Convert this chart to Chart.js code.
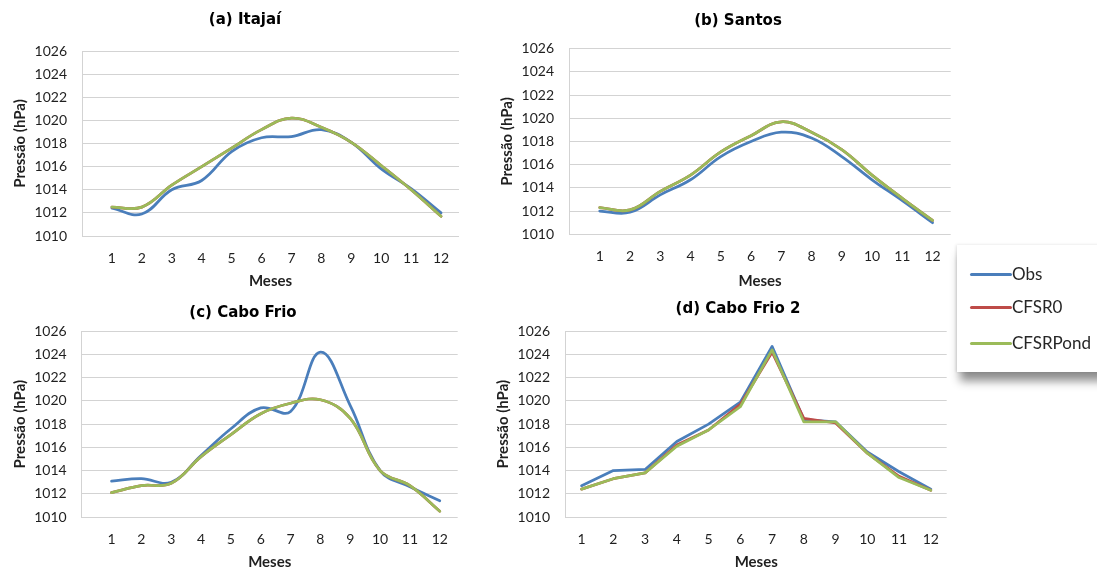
<!DOCTYPE html>
<html>
<head>
<meta charset="utf-8">
<script src="https://cdn.jsdelivr.net/npm/chart.js@4/dist/chart.umd.min.js"></script>
<style>
  html, body { margin: 0; padding: 0; background: #fff; }
  body { position: relative; width: 1097px; height: 571px; overflow: hidden; }
  canvas { position: absolute; }
  #legend {
    position: absolute; left: 957px; top: 245px; width: 170px; height: 127px;
    background: #fff;
    box-shadow: 3px 9px 9px rgba(0,0,0,0.45), -1px 0 3px rgba(0,0,0,0.12);
  }
  .item { position: absolute; left: 13px; height: 20px; display: flex; align-items: center; }
  .swatch { width: 42px; height: 3px; border-radius: 2px; }
  .label { font-family: Lato, sans-serif; font-size: 17px; color: #262626; line-height: 20px; }
</style>
</head>
<body>
<canvas id="chartA" width="486" height="290" style="left:0;top:0"></canvas>
<canvas id="chartB" width="494" height="290" style="left:491px;top:0"></canvas>
<canvas id="chartC" width="486" height="281" style="left:0;top:290px"></canvas>
<canvas id="chartD" width="494" height="281" style="left:491px;top:290px"></canvas>
<div id="legend"></div>
<script>
// Months on the horizontal axis
const months = [1, 2, 3, 4, 5, 6, 7, 8, 9, 10, 11, 12];

// Pressure ticks (hPa)
const pressureMin = 1010;
const pressureMax = 1026;
const pressureStep = 2;

// Series names and colours
const seriesNames = ['Obs', 'CFSR0', 'CFSRPond'];
const seriesColors = ['#4a7ebb', '#be4b48', '#9bbb59'];

// (a) Itajaí
const itajaiObs   = [1012.4, 1011.9, 1014.0, 1014.8, 1017.3, 1018.5, 1018.6, 1019.2, 1018.1, 1015.8, 1014.1, 1012.0];
const itajaiCfsr0 = [1012.5, 1012.5, 1014.4, 1016.0, 1017.6, 1019.2, 1020.2, 1019.4, 1018.1, 1016.1, 1014.0, 1011.7];
const itajaiPond  = [1012.5, 1012.5, 1014.4, 1016.0, 1017.6, 1019.2, 1020.2, 1019.4, 1018.1, 1016.1, 1014.0, 1011.7];

// (b) Santos
const santosObs   = [1012.0, 1011.9, 1013.4, 1014.7, 1016.7, 1018.0, 1018.8, 1018.3, 1016.7, 1014.7, 1012.9, 1011.0];
const santosCfsr0 = [1012.3, 1012.1, 1013.7, 1015.1, 1017.1, 1018.5, 1019.7, 1018.8, 1017.3, 1015.1, 1013.1, 1011.2];
const santosPond  = [1012.3, 1012.1, 1013.7, 1015.1, 1017.1, 1018.5, 1019.7, 1018.8, 1017.3, 1015.1, 1013.1, 1011.2];

// (c) Cabo Frio
const caboObs   = [1013.1, 1013.3, 1013.0, 1015.3, 1017.6, 1019.4, 1019.1, 1024.2, 1019.6, 1014.0, 1012.6, 1011.4];
const caboCfsr0 = [1012.1, 1012.7, 1012.9, 1015.2, 1017.1, 1018.9, 1019.8, 1020.1, 1018.5, 1014.0, 1012.7, 1010.5];
const caboPond  = [1012.1, 1012.7, 1012.9, 1015.2, 1017.1, 1018.9, 1019.8, 1020.1, 1018.5, 1014.0, 1012.7, 1010.5];

// (d) Cabo Frio 2
const cabo2Obs   = [1012.7, 1014.0, 1014.1, 1016.5, 1018.0, 1019.9, 1024.7, 1018.4, 1018.2, 1015.6, 1013.9, 1012.4];
const cabo2Cfsr0 = [1012.4, 1013.3, 1013.8, 1016.2, 1017.5, 1019.7, 1024.2, 1018.5, 1018.1, 1015.5, 1013.5, 1012.3];
const cabo2Pond  = [1012.4, 1013.3, 1013.8, 1016.1, 1017.5, 1019.5, 1024.4, 1018.2, 1018.2, 1015.5, 1013.4, 1012.3];

const tickColor = '#1f1f1f';
const gridColor = '#d3d3d3';

function buildDatasets(seriesList, useXY) {
  return seriesList.map((values, i) => ({
    label: seriesNames[i],
    data: useXY ? months.map((m, k) => ({ x: m, y: values[k] })) : values,
    borderColor: seriesColors[i],
    backgroundColor: seriesColors[i],
    borderWidth: 2.75,
    pointRadius: 0,
    fill: false,
    borderJoinStyle: 'round',
    borderCapStyle: 'round',
    order: seriesList.length - 1 - i
  }));
}

function makeChart(canvasId, title, seriesList, lay) {
  const smooth = lay.smooth;
  const xScale = smooth
    ? {
        type: 'linear', min: 0, max: 12.6,
        afterBuildTicks: s => { s.ticks = months.map(v => ({ value: v })); }
      }
    : { type: 'category', offset: true };

  Object.assign(xScale, {
    afterFit: s => { s.height = lay.xHeight; },
    ticks: {
      padding: lay.xTickPad, color: tickColor, maxRotation: 0, autoSkip: false,
      font: { family: 'Lato', size: 14 }
    },
    grid: { display: false, drawTicks: false },
    border: { display: false },
    title: {
      display: true, text: 'Meses', color: tickColor,
      font: { family: 'Lato', size: 15, weight: 'bold' },
      padding: { top: 0, bottom: 0 }
    }
  });
  if (smooth) xScale.ticks.callback = v => String(v);

  return new Chart(document.getElementById(canvasId), {
    type: 'line',
    data: {
      labels: smooth ? undefined : months.map(String),
      datasets: buildDatasets(seriesList, smooth)
    },
    options: {
      responsive: false,
      animation: false,
      devicePixelRatio: 1,
      elements: { line: { tension: smooth ? 0.4 : 0 } },
      layout: { padding: { left: lay.leftPad, right: lay.rightPad, top: 0, bottom: 0 } },
      plugins: {
        legend: { display: false },
        tooltip: { enabled: false },
        title: {
          display: true, text: title, color: '#000',
          font: { family: 'DejaVu Sans', size: 15, weight: 'bold', lineHeight: 1.2 },
          padding: { top: lay.titleTop, bottom: lay.titleBottom }
        }
      },
      scales: {
        x: xScale,
        y: {
          min: pressureMin, max: pressureMax,
          afterFit: s => {
            s.width = lay.yWidth;
            // tick labels may reach past the narrow axis box: draw them unclipped
            s._computeLabelArea = () => undefined;
          },
          ticks: {
            stepSize: pressureStep, padding: lay.yTickPad, color: tickColor,
            font: { family: 'Lato', size: 14 },
            callback: v => String(v)
          },
          grid: { color: gridColor, drawTicks: false, lineWidth: 1 },
          border: { display: true, color: gridColor, width: 1 },
          title: {
            display: true, text: 'Pressão (hPa)', color: tickColor,
            font: { family: 'Lato', size: 15, weight: 'bold' },
            padding: { top: lay.yTitlePad, bottom: 0 }
          }
        }
      }
    }
  });
}

makeChart('chartA', '(a) Itajaí', [itajaiObs, itajaiCfsr0, itajaiPond],
  { smooth: true, leftPad: 31, rightPad: 27, titleTop: 11.5, titleBottom: 21.5, yWidth: 51, yTickPad: 15, yTitlePad: -20.3, xHeight: 54, xTickPad: 13.6 });
makeChart('chartB', '(b) Santos', [santosObs, santosCfsr0, santosPond],
  { smooth: true, leftPad: 34.3, rightPad: 34.3, titleTop: 12, titleBottom: 18.7, yWidth: 44.2, yTickPad: 15.5, yTitlePad: -27.3, xHeight: 55.7, xTickPad: 13.3 });
makeChart('chartC', '(c) Cabo Frio', [caboObs, caboCfsr0, caboPond],
  { smooth: true, leftPad: 28.3, rightPad: 28.3, titleTop: 14.3, titleBottom: 9, yWidth: 53.4, yTickPad: 15, yTitlePad: -17.6, xHeight: 54, xTickPad: 13.6 });
makeChart('chartD', '(d) Cabo Frio 2', [cabo2Obs, cabo2Cfsr0, cabo2Pond],
  { smooth: false, leftPad: 38.3, rightPad: 38.3, titleTop: 10.3, titleBottom: 13, yWidth: 36.4, yTickPad: 15.7, yTitlePad: -35.3, xHeight: 54, xTickPad: 13.6 });

// Shared legend for the four panels
const legendBox = document.getElementById('legend');
const itemTops = [19, 52, 88];
seriesNames.forEach((name, i) => {
  const item = document.createElement('div');
  item.className = 'item';
  item.style.top = itemTops[i] + 'px';
  const sw = document.createElement('span');
  sw.className = 'swatch';
  sw.style.background = seriesColors[i];
  const lb = document.createElement('span');
  lb.className = 'label';
  lb.textContent = name;
  item.appendChild(sw);
  item.appendChild(lb);
  legendBox.appendChild(item);
});
</script>
</body>
</html>
